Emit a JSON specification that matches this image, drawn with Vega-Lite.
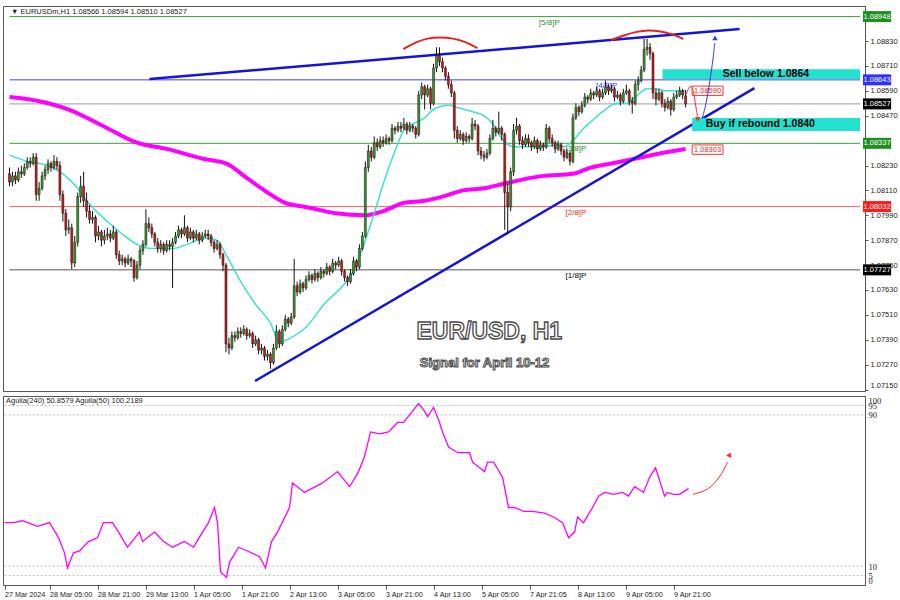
{
"$schema": "https://vega.github.io/schema/vega-lite/v6.json",
"background": "white",
"padding": {"left": 0, "top": 5, "right": 0, "bottom": 0},
"spacing": 3,
"config": {"view": {"stroke": "#555", "strokeWidth": 1}, "legend": {"disable": true}, "text": {"font": "Liberation Sans"}, "axis": {"labelFont": "Liberation Sans", "title": null, "labelOverlap": false}},
"datasets": {
"one": [{}],
"candles": [
{"i":0,"o":1.0819,"h":1.0822,"l":1.0813,"c":1.0815},{"i":1,"o":1.0815,"h":1.0820,"l":1.0813,"c":1.0818},{"i":2,"o":1.0818,"h":1.0820,"l":1.0814,"c":1.0816},{"i":3,"o":1.0816,"h":1.0822,"l":1.0815,"c":1.0820},{"i":4,"o":1.0820,"h":1.0823,"l":1.0817,"c":1.0819},{"i":5,"o":1.0819,"h":1.0824,"l":1.0818,"c":1.0822},{"i":6,"o":1.0822,"h":1.0827,"l":1.0821,"c":1.0825},{"i":7,"o":1.0825,"h":1.0827,"l":1.0822,"c":1.0824},{"i":8,"o":1.0824,"h":1.0829,"l":1.0823,"c":1.0827},{"i":9,"o":1.0827,"h":1.0829,"l":1.0806,"c":1.0809},
{"i":10,"o":1.0809,"h":1.0815,"l":1.0806,"c":1.0812},{"i":11,"o":1.0812,"h":1.0820,"l":1.0811,"c":1.0818},{"i":12,"o":1.0818,"h":1.0823,"l":1.0816,"c":1.0821},{"i":13,"o":1.0821,"h":1.0826,"l":1.0819,"c":1.0824},{"i":14,"o":1.0824,"h":1.0825,"l":1.0820,"c":1.0822},{"i":15,"o":1.0822,"h":1.0828,"l":1.0821,"c":1.0825},{"i":16,"o":1.0825,"h":1.0827,"l":1.0821,"c":1.0823},{"i":17,"o":1.0823,"h":1.0825,"l":1.0806,"c":1.0809},{"i":18,"o":1.0809,"h":1.0811,"l":1.0796,"c":1.0800},{"i":19,"o":1.0800,"h":1.0802,"l":1.0789,"c":1.0792},
{"i":20,"o":1.0792,"h":1.0797,"l":1.0790,"c":1.0793},{"i":21,"o":1.0793,"h":1.0795,"l":1.0773,"c":1.0776},{"i":22,"o":1.0776,"h":1.0789,"l":1.0774,"c":1.0786},{"i":23,"o":1.0786,"h":1.0810,"l":1.0784,"c":1.0808},{"i":24,"o":1.0808,"h":1.0818,"l":1.0805,"c":1.0813},{"i":25,"o":1.0813,"h":1.0820,"l":1.0803,"c":1.0806},{"i":26,"o":1.0806,"h":1.0810,"l":1.0798,"c":1.0801},{"i":27,"o":1.0801,"h":1.0804,"l":1.0795,"c":1.0797},{"i":28,"o":1.0797,"h":1.0801,"l":1.0795,"c":1.0798},{"i":29,"o":1.0798,"h":1.0799,"l":1.0786,"c":1.0789},
{"i":30,"o":1.0789,"h":1.0794,"l":1.0787,"c":1.0791},{"i":31,"o":1.0791,"h":1.0792,"l":1.0784,"c":1.0787},{"i":32,"o":1.0787,"h":1.0792,"l":1.0785,"c":1.0789},{"i":33,"o":1.0789,"h":1.0793,"l":1.0787,"c":1.0790},{"i":34,"o":1.0790,"h":1.0792,"l":1.0786,"c":1.0788},{"i":35,"o":1.0788,"h":1.0794,"l":1.0787,"c":1.0791},{"i":36,"o":1.0791,"h":1.0792,"l":1.0778,"c":1.0780},{"i":37,"o":1.0780,"h":1.0782,"l":1.0775,"c":1.0777},{"i":38,"o":1.0777,"h":1.0780,"l":1.0775,"c":1.0778},{"i":39,"o":1.0778,"h":1.0779,"l":1.0774,"c":1.0776},
{"i":40,"o":1.0776,"h":1.0780,"l":1.0775,"c":1.0778},{"i":41,"o":1.0778,"h":1.0779,"l":1.0774,"c":1.0777},{"i":42,"o":1.0777,"h":1.0778,"l":1.0767,"c":1.0769},{"i":43,"o":1.0769,"h":1.0777,"l":1.0768,"c":1.0775},{"i":44,"o":1.0775,"h":1.0784,"l":1.0773,"c":1.0782},{"i":45,"o":1.0782,"h":1.0787,"l":1.0780,"c":1.0785},{"i":46,"o":1.0785,"h":1.0802,"l":1.0784,"c":1.0795},{"i":47,"o":1.0795,"h":1.0798,"l":1.0791,"c":1.0793},{"i":48,"o":1.0793,"h":1.0795,"l":1.0788,"c":1.0790},{"i":49,"o":1.0790,"h":1.0791,"l":1.0784,"c":1.0786},
{"i":50,"o":1.0786,"h":1.0788,"l":1.0781,"c":1.0783},{"i":51,"o":1.0783,"h":1.0787,"l":1.0781,"c":1.0785},{"i":52,"o":1.0785,"h":1.0786,"l":1.0780,"c":1.0782},{"i":53,"o":1.0782,"h":1.0787,"l":1.0781,"c":1.0785},{"i":54,"o":1.0785,"h":1.0787,"l":1.0782,"c":1.0784},{"i":55,"o":1.0784,"h":1.0788,"l":1.0764,"c":1.0786},{"i":56,"o":1.0786,"h":1.0791,"l":1.0785,"c":1.0789},{"i":57,"o":1.0789,"h":1.0794,"l":1.0788,"c":1.0792},{"i":58,"o":1.0792,"h":1.0793,"l":1.0788,"c":1.0790},{"i":59,"o":1.0790,"h":1.0799,"l":1.0789,"c":1.0793},
{"i":60,"o":1.0793,"h":1.0794,"l":1.0786,"c":1.0788},{"i":61,"o":1.0788,"h":1.0793,"l":1.0787,"c":1.0791},{"i":62,"o":1.0791,"h":1.0792,"l":1.0786,"c":1.0788},{"i":63,"o":1.0788,"h":1.0792,"l":1.0787,"c":1.0790},{"i":64,"o":1.0790,"h":1.0791,"l":1.0785,"c":1.0787},{"i":65,"o":1.0787,"h":1.0791,"l":1.0786,"c":1.0789},{"i":66,"o":1.0789,"h":1.0792,"l":1.0788,"c":1.0790},{"i":67,"o":1.0790,"h":1.0792,"l":1.0787,"c":1.0789},{"i":68,"o":1.0789,"h":1.0790,"l":1.0784,"c":1.0786},{"i":69,"o":1.0786,"h":1.0787,"l":1.0781,"c":1.0783},
{"i":70,"o":1.0783,"h":1.0787,"l":1.0782,"c":1.0785},{"i":71,"o":1.0785,"h":1.0786,"l":1.0778,"c":1.0780},{"i":72,"o":1.0780,"h":1.0781,"l":1.0772,"c":1.0775},{"i":73,"o":1.0775,"h":1.0776,"l":1.0733,"c":1.0737},{"i":74,"o":1.0737,"h":1.0740,"l":1.0732,"c":1.0735},{"i":75,"o":1.0735,"h":1.0743,"l":1.0734,"c":1.0741},{"i":76,"o":1.0741,"h":1.0743,"l":1.0738,"c":1.0740},{"i":77,"o":1.0740,"h":1.0745,"l":1.0739,"c":1.0743},{"i":78,"o":1.0743,"h":1.0745,"l":1.0740,"c":1.0742},{"i":79,"o":1.0742,"h":1.0746,"l":1.0741,"c":1.0744},
{"i":80,"o":1.0744,"h":1.0745,"l":1.0739,"c":1.0741},{"i":81,"o":1.0741,"h":1.0744,"l":1.0740,"c":1.0742},{"i":82,"o":1.0742,"h":1.0743,"l":1.0735,"c":1.0737},{"i":83,"o":1.0737,"h":1.0741,"l":1.0736,"c":1.0739},{"i":84,"o":1.0739,"h":1.0740,"l":1.0732,"c":1.0734},{"i":85,"o":1.0734,"h":1.0737,"l":1.0732,"c":1.0735},{"i":86,"o":1.0735,"h":1.0736,"l":1.0729,"c":1.0731},{"i":87,"o":1.0731,"h":1.0734,"l":1.0729,"c":1.0732},{"i":88,"o":1.0732,"h":1.0733,"l":1.0725,"c":1.0728},{"i":89,"o":1.0728,"h":1.0737,"l":1.0727,"c":1.0735},
{"i":90,"o":1.0735,"h":1.0746,"l":1.0734,"c":1.0743},{"i":91,"o":1.0743,"h":1.0744,"l":1.0735,"c":1.0737},{"i":92,"o":1.0737,"h":1.0746,"l":1.0736,"c":1.0744},{"i":93,"o":1.0744,"h":1.0751,"l":1.0743,"c":1.0749},{"i":94,"o":1.0749,"h":1.0750,"l":1.0745,"c":1.0747},{"i":95,"o":1.0747,"h":1.0752,"l":1.0746,"c":1.0750},{"i":96,"o":1.0750,"h":1.0778,"l":1.0749,"c":1.0765},{"i":97,"o":1.0765,"h":1.0767,"l":1.0760,"c":1.0762},{"i":98,"o":1.0762,"h":1.0768,"l":1.0761,"c":1.0766},{"i":99,"o":1.0766,"h":1.0767,"l":1.0762,"c":1.0764},
{"i":100,"o":1.0764,"h":1.0770,"l":1.0763,"c":1.0768},{"i":101,"o":1.0768,"h":1.0772,"l":1.0767,"c":1.0770},{"i":102,"o":1.0770,"h":1.0771,"l":1.0766,"c":1.0768},{"i":103,"o":1.0768,"h":1.0773,"l":1.0767,"c":1.0771},{"i":104,"o":1.0771,"h":1.0772,"l":1.0767,"c":1.0769},{"i":105,"o":1.0769,"h":1.0774,"l":1.0768,"c":1.0772},{"i":106,"o":1.0772,"h":1.0773,"l":1.0769,"c":1.0771},{"i":107,"o":1.0771,"h":1.0776,"l":1.0770,"c":1.0774},{"i":108,"o":1.0774,"h":1.0775,"l":1.0770,"c":1.0772},{"i":109,"o":1.0772,"h":1.0778,"l":1.0771,"c":1.0776},
{"i":110,"o":1.0776,"h":1.0777,"l":1.0773,"c":1.0775},{"i":111,"o":1.0775,"h":1.0779,"l":1.0774,"c":1.0777},{"i":112,"o":1.0777,"h":1.0778,"l":1.0770,"c":1.0772},{"i":113,"o":1.0772,"h":1.0773,"l":1.0767,"c":1.0769},{"i":114,"o":1.0769,"h":1.0770,"l":1.0765,"c":1.0767},{"i":115,"o":1.0767,"h":1.0773,"l":1.0766,"c":1.0771},{"i":116,"o":1.0771,"h":1.0779,"l":1.0770,"c":1.0777},{"i":117,"o":1.0777,"h":1.0778,"l":1.0772,"c":1.0774},{"i":118,"o":1.0774,"h":1.0785,"l":1.0773,"c":1.0783},{"i":119,"o":1.0783,"h":1.0791,"l":1.0782,"c":1.0789},
{"i":120,"o":1.0789,"h":1.0825,"l":1.0788,"c":1.0822},{"i":121,"o":1.0822,"h":1.0833,"l":1.0820,"c":1.0830},{"i":122,"o":1.0830,"h":1.0832,"l":1.0825,"c":1.0827},{"i":123,"o":1.0827,"h":1.0837,"l":1.0826,"c":1.0834},{"i":124,"o":1.0834,"h":1.0836,"l":1.0830,"c":1.0832},{"i":125,"o":1.0832,"h":1.0837,"l":1.0831,"c":1.0835},{"i":126,"o":1.0835,"h":1.0837,"l":1.0832,"c":1.0834},{"i":127,"o":1.0834,"h":1.0838,"l":1.0833,"c":1.0836},{"i":128,"o":1.0836,"h":1.0837,"l":1.0833,"c":1.0835},{"i":129,"o":1.0835,"h":1.0843,"l":1.0834,"c":1.0841},
{"i":130,"o":1.0841,"h":1.0842,"l":1.0838,"c":1.0840},{"i":131,"o":1.0840,"h":1.0844,"l":1.0839,"c":1.0842},{"i":132,"o":1.0842,"h":1.0844,"l":1.0839,"c":1.0841},{"i":133,"o":1.0841,"h":1.0846,"l":1.0840,"c":1.0843},{"i":134,"o":1.0843,"h":1.0844,"l":1.0838,"c":1.0840},{"i":135,"o":1.0840,"h":1.0844,"l":1.0839,"c":1.0842},{"i":136,"o":1.0842,"h":1.0843,"l":1.0839,"c":1.0841},{"i":137,"o":1.0841,"h":1.0842,"l":1.0836,"c":1.0838},{"i":138,"o":1.0838,"h":1.0859,"l":1.0837,"c":1.0857},{"i":139,"o":1.0857,"h":1.0863,"l":1.0855,"c":1.0861},
{"i":140,"o":1.0861,"h":1.0862,"l":1.0850,"c":1.0857},{"i":141,"o":1.0857,"h":1.0862,"l":1.0856,"c":1.0860},{"i":142,"o":1.0860,"h":1.0861,"l":1.0850,"c":1.0853},{"i":143,"o":1.0853,"h":1.0872,"l":1.0852,"c":1.0870},{"i":144,"o":1.0870,"h":1.0880,"l":1.0868,"c":1.0876},{"i":145,"o":1.0876,"h":1.0880,"l":1.0871,"c":1.0873},{"i":146,"o":1.0873,"h":1.0875,"l":1.0868,"c":1.0870},{"i":147,"o":1.0870,"h":1.0871,"l":1.0864,"c":1.0866},{"i":148,"o":1.0866,"h":1.0868,"l":1.0860,"c":1.0862},{"i":149,"o":1.0862,"h":1.0864,"l":1.0856,"c":1.0858},
{"i":150,"o":1.0858,"h":1.0859,"l":1.0836,"c":1.0840},{"i":151,"o":1.0840,"h":1.0842,"l":1.0834,"c":1.0836},{"i":152,"o":1.0836,"h":1.0840,"l":1.0835,"c":1.0838},{"i":153,"o":1.0838,"h":1.0839,"l":1.0833,"c":1.0835},{"i":154,"o":1.0835,"h":1.0839,"l":1.0834,"c":1.0837},{"i":155,"o":1.0837,"h":1.0838,"l":1.0834,"c":1.0836},{"i":156,"o":1.0836,"h":1.0846,"l":1.0835,"c":1.0843},{"i":157,"o":1.0843,"h":1.0845,"l":1.0840,"c":1.0842},{"i":158,"o":1.0842,"h":1.0843,"l":1.0828,"c":1.0830},{"i":159,"o":1.0830,"h":1.0832,"l":1.0826,"c":1.0828},
{"i":160,"o":1.0828,"h":1.0830,"l":1.0825,"c":1.0827},{"i":161,"o":1.0827,"h":1.0831,"l":1.0826,"c":1.0829},{"i":162,"o":1.0829,"h":1.0838,"l":1.0828,"c":1.0836},{"i":163,"o":1.0836,"h":1.0845,"l":1.0835,"c":1.0841},{"i":164,"o":1.0841,"h":1.0842,"l":1.0837,"c":1.0839},{"i":165,"o":1.0839,"h":1.0849,"l":1.0838,"c":1.0841},{"i":166,"o":1.0841,"h":1.0842,"l":1.0835,"c":1.0838},{"i":167,"o":1.0838,"h":1.0839,"l":1.0792,"c":1.0810},{"i":168,"o":1.0810,"h":1.0814,"l":1.0790,"c":1.0803},{"i":169,"o":1.0803,"h":1.0822,"l":1.0801,"c":1.0820},
{"i":170,"o":1.0820,"h":1.0843,"l":1.0818,"c":1.0840},{"i":171,"o":1.0840,"h":1.0846,"l":1.0838,"c":1.0842},{"i":172,"o":1.0842,"h":1.0843,"l":1.0833,"c":1.0835},{"i":173,"o":1.0835,"h":1.0837,"l":1.0831,"c":1.0833},{"i":174,"o":1.0833,"h":1.0838,"l":1.0832,"c":1.0836},{"i":175,"o":1.0836,"h":1.0838,"l":1.0832,"c":1.0834},{"i":176,"o":1.0834,"h":1.0835,"l":1.0830,"c":1.0832},{"i":177,"o":1.0832,"h":1.0837,"l":1.0831,"c":1.0835},{"i":178,"o":1.0835,"h":1.0836,"l":1.0829,"c":1.0831},{"i":179,"o":1.0831,"h":1.0835,"l":1.0830,"c":1.0833},
{"i":180,"o":1.0833,"h":1.0834,"l":1.0830,"c":1.0832},{"i":181,"o":1.0832,"h":1.0843,"l":1.0831,"c":1.0841},{"i":182,"o":1.0841,"h":1.0842,"l":1.0834,"c":1.0836},{"i":183,"o":1.0836,"h":1.0838,"l":1.0832,"c":1.0834},{"i":184,"o":1.0834,"h":1.0835,"l":1.0829,"c":1.0831},{"i":185,"o":1.0831,"h":1.0835,"l":1.0830,"c":1.0833},{"i":186,"o":1.0833,"h":1.0834,"l":1.0828,"c":1.0830},{"i":187,"o":1.0830,"h":1.0831,"l":1.0825,"c":1.0827},{"i":188,"o":1.0827,"h":1.0831,"l":1.0826,"c":1.0829},{"i":189,"o":1.0829,"h":1.0830,"l":1.0823,"c":1.0825},
{"i":190,"o":1.0825,"h":1.0848,"l":1.0824,"c":1.0846},{"i":191,"o":1.0846,"h":1.0853,"l":1.0845,"c":1.0851},{"i":192,"o":1.0851,"h":1.0852,"l":1.0847,"c":1.0849},{"i":193,"o":1.0849,"h":1.0854,"l":1.0848,"c":1.0852},{"i":194,"o":1.0852,"h":1.0858,"l":1.0851,"c":1.0856},{"i":195,"o":1.0856,"h":1.0857,"l":1.0853,"c":1.0855},{"i":196,"o":1.0855,"h":1.0860,"l":1.0854,"c":1.0858},{"i":197,"o":1.0858,"h":1.0859,"l":1.0855,"c":1.0857},{"i":198,"o":1.0857,"h":1.0861,"l":1.0856,"c":1.0859},{"i":199,"o":1.0859,"h":1.0860,"l":1.0854,"c":1.0856},
{"i":200,"o":1.0856,"h":1.0860,"l":1.0855,"c":1.0858},{"i":201,"o":1.0858,"h":1.0864,"l":1.0857,"c":1.0861},{"i":202,"o":1.0861,"h":1.0862,"l":1.0857,"c":1.0859},{"i":203,"o":1.0859,"h":1.0862,"l":1.0858,"c":1.0860},{"i":204,"o":1.0860,"h":1.0861,"l":1.0854,"c":1.0856},{"i":205,"o":1.0856,"h":1.0859,"l":1.0855,"c":1.0857},{"i":206,"o":1.0857,"h":1.0858,"l":1.0852,"c":1.0854},{"i":207,"o":1.0854,"h":1.0860,"l":1.0853,"c":1.0858},{"i":208,"o":1.0858,"h":1.0862,"l":1.0857,"c":1.0859},{"i":209,"o":1.0859,"h":1.0860,"l":1.0852,"c":1.0854},
{"i":210,"o":1.0854,"h":1.0856,"l":1.0848,"c":1.0853},{"i":211,"o":1.0853,"h":1.0864,"l":1.0852,"c":1.0862},{"i":212,"o":1.0862,"h":1.0866,"l":1.0859,"c":1.0864},{"i":213,"o":1.0864,"h":1.0871,"l":1.0863,"c":1.0869},{"i":214,"o":1.0869,"h":1.0884,"l":1.0868,"c":1.0879},{"i":215,"o":1.0879,"h":1.0884,"l":1.0876,"c":1.0880},{"i":216,"o":1.0880,"h":1.0882,"l":1.0874,"c":1.0877},{"i":217,"o":1.0877,"h":1.0878,"l":1.0855,"c":1.0858},{"i":218,"o":1.0858,"h":1.0860,"l":1.0852,"c":1.0855},{"i":219,"o":1.0855,"h":1.0860,"l":1.0854,"c":1.0858},
{"i":220,"o":1.0858,"h":1.0859,"l":1.0851,"c":1.0853},{"i":221,"o":1.0853,"h":1.0855,"l":1.0849,"c":1.0851},{"i":222,"o":1.0851,"h":1.0856,"l":1.0850,"c":1.0854},{"i":223,"o":1.0854,"h":1.0855,"l":1.0847,"c":1.0850},{"i":224,"o":1.0850,"h":1.0858,"l":1.0849,"c":1.0856},{"i":225,"o":1.0856,"h":1.0859,"l":1.0855,"c":1.0857},{"i":226,"o":1.0857,"h":1.0861,"l":1.0856,"c":1.0859},{"i":227,"o":1.0859,"h":1.0860,"l":1.0855,"c":1.0857},{"i":228,"o":1.08566,"h":1.08594,"l":1.0851,"c":1.08527}
],
"ma": [
{"i":0,"p":1.0828},{"i":6,"p":1.0825},{"i":13,"p":1.0823},{"i":18,"p":1.0819},{"i":23,"p":1.0812},{"i":26,"p":1.0806},{"i":33,"p":1.0796},{"i":38,"p":1.0790},{"i":43,"p":1.0785},{"i":48,"p":1.0783},{"i":55,"p":1.0783},{"i":60,"p":1.0785},{"i":66,"p":1.0788},{"i":70,"p":1.0787},{"i":73,"p":1.0780},{"i":78,"p":1.0767},{"i":83,"p":1.0756},{"i":88,"p":1.0747},{"i":91,"p":1.0738},{"i":95,"p":1.0740},{"i":100,"p":1.0745},{"i":106,"p":1.0756},{"i":113,"p":1.0766},{"i":116,"p":1.0772},{"i":120,"p":1.0787},{"i":123,"p":1.0800},{"i":126,"p":1.0814},{"i":130,"p":1.0830},{"i":133,"p":1.0840},{"i":136,"p":1.0843},{"i":140,"p":1.0846},{"i":143,"p":1.0850},{"i":148,"p":1.0852},{"i":151,"p":1.0851},{"i":156,"p":1.0849},{"i":160,"p":1.0847},{"i":163,"p":1.0843},{"i":166,"p":1.0836},{"i":170,"p":1.0832},{"i":173,"p":1.0832},{"i":180,"p":1.0832},{"i":185,"p":1.0833},{"i":187,"p":1.0832},{"i":190,"p":1.0835},{"i":193,"p":1.0840},{"i":196,"p":1.0844},{"i":200,"p":1.0849},{"i":205,"p":1.0853},{"i":208,"p":1.0853},{"i":211,"p":1.0856},{"i":215,"p":1.0860},{"i":218,"p":1.0860},{"i":221,"p":1.0859},{"i":225,"p":1.0859},{"i":228,"p":1.0859}
],
"ma200": [
{"i":0,"p":1.0856},{"i":10,"p":1.0854},{"i":20,"p":1.0850},{"i":33,"p":1.0841},{"i":43,"p":1.0834},{"i":53,"p":1.0831},{"i":66,"p":1.0826},{"i":73,"p":1.0824},{"i":80,"p":1.0817},{"i":86,"p":1.0811},{"i":93,"p":1.0805},{"i":100,"p":1.0803},{"i":110,"p":1.0800},{"i":120,"p":1.0799},{"i":126,"p":1.0801},{"i":133,"p":1.0805},{"i":140,"p":1.0806},{"i":146,"p":1.0808},{"i":153,"p":1.0811},{"i":160,"p":1.0812},{"i":166,"p":1.0814},{"i":180,"p":1.0818},{"i":190,"p":1.0819},{"i":196,"p":1.0822},{"i":203,"p":1.0824},{"i":210,"p":1.0826},{"i":220,"p":1.0829},{"i":228,"p":1.0831}
],
"osc": [
{"i":0,"v":33},{"i":3,"v":33},{"i":6,"v":34},{"i":11,"v":31},{"i":15,"v":33},{"i":18,"v":25},{"i":20,"v":17},{"i":21,"v":9},{"i":23,"v":17},{"i":25,"v":18},{"i":28,"v":23},{"i":31,"v":25},{"i":33,"v":33},{"i":36,"v":33},{"i":38,"v":28},{"i":41,"v":20},{"i":45,"v":28},{"i":46,"v":23},{"i":50,"v":28},{"i":53,"v":23},{"i":56,"v":20},{"i":60,"v":23},{"i":63,"v":20},{"i":66,"v":28},{"i":68,"v":33},{"i":70,"v":41},{"i":71,"v":33},{"i":72,"v":7},{"i":74,"v":4},{"i":75,"v":12},{"i":78,"v":20},{"i":81,"v":18},{"i":85,"v":15},{"i":87,"v":9},{"i":89,"v":23},{"i":91,"v":28},{"i":95,"v":41},{"i":96,"v":54},{"i":100,"v":49},{"i":106,"v":54},{"i":111,"v":60},{"i":115,"v":52},{"i":118,"v":60},{"i":120,"v":68},{"i":122,"v":81},{"i":125,"v":80},{"i":128,"v":81},{"i":131,"v":86},{"i":133,"v":86},{"i":136,"v":92},{"i":138,"v":96},{"i":140,"v":92},{"i":141,"v":89},{"i":143,"v":94},{"i":145,"v":86},{"i":146,"v":81},{"i":148,"v":73},{"i":151,"v":70},{"i":155,"v":70},{"i":156,"v":65},{"i":160,"v":60},{"i":161,"v":65},{"i":163,"v":65},{"i":166,"v":57},{"i":168,"v":41},{"i":170,"v":41},{"i":173,"v":39},{"i":176,"v":39},{"i":180,"v":38},{"i":183,"v":36},{"i":186,"v":33},{"i":188,"v":25},{"i":190,"v":28},{"i":191,"v":36},{"i":193,"v":33},{"i":196,"v":41},{"i":198,"v":47},{"i":200,"v":49},{"i":203,"v":48},{"i":206,"v":49},{"i":208,"v":47},{"i":210,"v":52},{"i":213,"v":49},{"i":215,"v":57},{"i":217,"v":62},{"i":218,"v":57},{"i":220,"v":47},{"i":221,"v":49},{"i":223,"v":48},{"i":225,"v":48},{"i":226,"v":49},{"i":228,"v":51}
],
"levels": [
{"lvl":"5/8","txt":"[5/8]P","p":1.08948,"at":178.5},
{"lvl":"4/8","txt":"[4/8]P","p":1.08643,"at":197.8},
{"lvl":"cur","txt":"","p":1.08527,"at":0},
{"lvl":"3/8","txt":"[3/8]P","p":1.08337,"at":187.5},
{"lvl":"2/8","txt":"[2/8]P","p":1.08032,"at":187.5},
{"lvl":"1/8","txt":"[1/8]P","p":1.07727,"at":187.5}
],
"trend": [
{"ln":"a","i":47.2,"p":1.08647},{"ln":"a","i":246.2,"p":1.08888},
{"ln":"b","i":82.8,"p":1.07191},{"ln":"b","i":251.2,"p":1.08603}
],
"arcs": [
{"arc":"a","i":132.8,"p":1.08791},{"arc":"a","i":137,"p":1.08825},{"arc":"a","i":141,"p":1.08844},{"arc":"a","i":145,"p":1.08849},{"arc":"a","i":149.5,"p":1.08844},{"arc":"a","i":154,"p":1.08825},{"arc":"a","i":157.8,"p":1.08796},
{"arc":"b","i":202.8,"p":1.08835},{"arc":"b","i":207.5,"p":1.08859},{"arc":"b","i":211.5,"p":1.08876},{"arc":"b","i":215.5,"p":1.08883},{"arc":"b","i":219.5,"p":1.08878},{"arc":"b","i":223.5,"p":1.08864},{"arc":"b","i":227.2,"p":1.0884}
],
"redarrow": [
{"k":1,"i":228.2,"p":1.08575},{"k":2,"i":229.8,"p":1.08632},{"k":3,"i":230.8,"p":1.08575},{"k":4,"i":231.6,"p":1.0850},{"k":5,"i":232.0,"p":1.08468}
],
"bluearrow": [
{"k":1,"i":233.5,"p":1.08454},{"k":2,"i":234.8,"p":1.08517},{"k":3,"i":236.2,"p":1.08637},{"k":4,"i":237.4,"p":1.08758},{"k":5,"i":237.8,"p":1.0882}
],
"oscarrow": [
{"k":1,"i":229.5,"v":48},{"k":2,"i":234.5,"v":50},{"k":3,"i":238.5,"v":57},{"k":4,"i":241,"v":65}
],
"osclv": [{"v":5},{"v":10},{"v":90},{"v":95}]
},
"vconcat": [
{
"width": 862, "height": 385,
"resolve": {"axis": {"y": "independent"}},
"layer": [
{"data": {"name": "levels"}, "mark": {"type": "rule", "strokeWidth": 1},
 "encoding": {"x": {"datum": 0, "type": "quantitative", "scale": {"domain": [-0.5, 286.8]}, "axis": null}, "x2": {"datum": 286.8},
  "y": {"field": "p", "type": "quantitative", "scale": {"domain": [1.07143, 1.08999]},
   "axis": {"orient": "right", "values": [1.0715,1.0727,1.0739,1.0751,1.0763,1.0775,1.0787,1.0799,1.0811,1.0823,1.0847,1.0859,1.0871,1.0883], "format": ".5f", "labelFontSize": 7.5, "labelColor": "#222", "tickSize": 3, "tickColor": "#555", "labelPadding": 2, "domain": false, "grid": false, "labelOverlap": false, "labelFlush": 3}},
  "stroke": {"field": "lvl", "type": "nominal", "scale": {"domain": ["5/8","4/8","cur","3/8","2/8","1/8"], "range": ["#3aa03a","#3c3cff","#9a9a9a","#3aa03a","#ff6060","#555555"]}}}},
{"data": {"name": "levels"}, "transform": [{"filter": "datum.txt != ''"}],
 "mark": {"type": "text", "align": "left", "baseline": "top", "dy": 2, "fontSize": 8},
 "encoding": {"x": {"field": "at", "type": "quantitative", "scale": {"domain": [-0.5, 286.8]}, "axis": null},
  "y": {"field": "p", "type": "quantitative", "scale": {"domain": [1.07143, 1.08999]}, "axis": null},
  "text": {"field": "txt"},
  "color": {"field": "lvl", "type": "nominal", "scale": {"domain": ["5/8","4/8","cur","3/8","2/8","1/8"], "range": ["#1e8f1e","#2f2fff","#000000","#1e8f1e","#ff1a1a","#000000"]}}}},
{"data": {"name": "ma200"}, "mark": {"type": "line", "color": "#ff00ff", "strokeWidth": 4, "interpolate": "monotone"},
 "encoding": {"x": {"field": "i", "type": "quantitative", "scale": {"domain": [-0.5, 286.8]}, "axis": null},
  "y": {"field": "p", "type": "quantitative", "scale": {"domain": [1.07143, 1.08999]}, "axis": null}}},
{"data": {"name": "ma"}, "mark": {"type": "line", "color": "#3fe0cf", "strokeWidth": 1.5, "interpolate": "monotone"},
 "encoding": {"x": {"field": "i", "type": "quantitative", "scale": {"domain": [-0.5, 286.8]}, "axis": null},
  "y": {"field": "p", "type": "quantitative", "scale": {"domain": [1.07143, 1.08999]}, "axis": null}}},
{"data": {"name": "trend"}, "mark": {"type": "line", "color": "#1414d8", "strokeWidth": 2.5},
 "encoding": {"x": {"field": "i", "type": "quantitative", "scale": {"domain": [-0.5, 286.8]}, "axis": null},
  "y": {"field": "p", "type": "quantitative", "scale": {"domain": [1.07143, 1.08999]}, "axis": null},
  "detail": {"field": "ln"}}},
{"data": {"name": "candles"}, "mark": {"type": "rule", "color": "#111", "strokeWidth": 1},
 "encoding": {"x": {"field": "i", "type": "quantitative", "scale": {"domain": [-0.5, 286.8]}, "axis": null},
  "y": {"field": "l", "type": "quantitative", "scale": {"domain": [1.07143, 1.08999]}, "axis": null},
  "y2": {"field": "h"}}},
{"data": {"name": "candles"}, "mark": {"type": "bar", "size": 2, "stroke": "#111", "strokeWidth": 0.5},
 "encoding": {"x": {"field": "i", "type": "quantitative", "scale": {"domain": [-0.5, 286.8]}, "axis": null},
  "y": {"field": "o", "type": "quantitative", "scale": {"domain": [1.07143, 1.08999]}, "axis": null},
  "y2": {"field": "c"},
  "fill": {"condition": {"test": "datum.c >= datum.o", "value": "#3c9a2a"}, "value": "#cc1a1a"}}},
{"data": {"name": "arcs"}, "mark": {"type": "line", "color": "#e82020", "strokeWidth": 2, "interpolate": "basis"},
 "encoding": {"x": {"field": "i", "type": "quantitative", "scale": {"domain": [-0.5, 286.8]}, "axis": null},
  "y": {"field": "p", "type": "quantitative", "scale": {"domain": [1.07143, 1.08999]}, "axis": null},
  "detail": {"field": "arc"}}},
{"data": {"name": "one"}, "mark": {"type": "rect", "color": "#22e2cf"},
 "encoding": {"x": {"datum": 220.2, "type": "quantitative", "scale": {"domain": [-0.5, 286.8]}, "axis": null}, "x2": {"datum": 286.8},
  "y": {"datum": 1.08694, "type": "quantitative", "scale": {"domain": [1.07143, 1.08999]}, "axis": null}, "y2": {"datum": 1.08646}}},
{"data": {"name": "one"}, "mark": {"type": "rect", "color": "#22e2cf"},
 "encoding": {"x": {"datum": 230.2, "type": "quantitative", "scale": {"domain": [-0.5, 286.8]}, "axis": null}, "x2": {"datum": 286.8},
  "y": {"datum": 1.08459, "type": "quantitative", "scale": {"domain": [1.07143, 1.08999]}, "axis": null}, "y2": {"datum": 1.08396}}},
{"data": {"name": "one"}, "mark": {"type": "text", "align": "left", "baseline": "middle", "fontSize": 10.5, "fontWeight": "bold", "color": "#000"},
 "encoding": {"x": {"datum": 240.5, "type": "quantitative", "scale": {"domain": [-0.5, 286.8]}, "axis": null},
  "y": {"datum": 1.08670, "type": "quantitative", "scale": {"domain": [1.07143, 1.08999]}, "axis": null}, "text": {"value": "Sell below 1.0864"}}},
{"data": {"name": "one"}, "mark": {"type": "text", "align": "left", "baseline": "middle", "fontSize": 10.5, "fontWeight": "bold", "color": "#000"},
 "encoding": {"x": {"datum": 234.8, "type": "quantitative", "scale": {"domain": [-0.5, 286.8]}, "axis": null},
  "y": {"datum": 1.08428, "type": "quantitative", "scale": {"domain": [1.07143, 1.08999]}, "axis": null}, "text": {"value": "Buy if rebound 1.0840"}}},
{"data": {"name": "one"}, "mark": {"type": "rect", "fill": "#fff", "stroke": "#ff3030", "strokeWidth": 1},
 "encoding": {"x": {"datum": 230.2, "type": "quantitative", "scale": {"domain": [-0.5, 286.8]}, "axis": null}, "x2": {"datum": 240.6},
  "y": {"datum": 1.08613, "type": "quantitative", "scale": {"domain": [1.07143, 1.08999]}, "axis": null}, "y2": {"datum": 1.08568}}},
{"data": {"name": "one"}, "mark": {"type": "rect", "fill": "#fff", "stroke": "#ff3030", "strokeWidth": 1},
 "encoding": {"x": {"datum": 230.2, "type": "quantitative", "scale": {"domain": [-0.5, 286.8]}, "axis": null}, "x2": {"datum": 240.6},
  "y": {"datum": 1.08329, "type": "quantitative", "scale": {"domain": [1.07143, 1.08999]}, "axis": null}, "y2": {"datum": 1.08284}}},
{"data": {"name": "one"}, "mark": {"type": "text", "align": "center", "baseline": "middle", "fontSize": 7.5, "color": "#ff2020"},
 "encoding": {"x": {"datum": 235.4, "type": "quantitative", "scale": {"domain": [-0.5, 286.8]}, "axis": null},
  "y": {"datum": 1.08591, "type": "quantitative", "scale": {"domain": [1.07143, 1.08999]}, "axis": null}, "text": {"value": "1.08590"}}},
{"data": {"name": "one"}, "mark": {"type": "text", "align": "center", "baseline": "middle", "fontSize": 7.5, "color": "#ff2020"},
 "encoding": {"x": {"datum": 235.4, "type": "quantitative", "scale": {"domain": [-0.5, 286.8]}, "axis": null},
  "y": {"datum": 1.08307, "type": "quantitative", "scale": {"domain": [1.07143, 1.08999]}, "axis": null}, "text": {"value": "1.08303"}}},
{"data": {"name": "redarrow"}, "mark": {"type": "line", "color": "#ff2a2a", "strokeWidth": 1, "interpolate": "basis"},
 "encoding": {"x": {"field": "i", "type": "quantitative", "scale": {"domain": [-0.5, 286.8]}, "axis": null},
  "y": {"field": "p", "type": "quantitative", "scale": {"domain": [1.07143, 1.08999]}, "axis": null}, "order": {"field": "k"}}},
{"data": {"name": "one"}, "mark": {"type": "point", "shape": "triangle-down", "filled": true, "color": "#ff2a2a", "size": 30, "opacity": 1},
 "encoding": {"x": {"datum": 232.1, "type": "quantitative", "scale": {"domain": [-0.5, 286.8]}, "axis": null},
  "y": {"datum": 1.08452, "type": "quantitative", "scale": {"domain": [1.07143, 1.08999]}, "axis": null}}},
{"data": {"name": "bluearrow"}, "mark": {"type": "line", "color": "#3a3ae0", "strokeWidth": 1, "interpolate": "basis"},
 "encoding": {"x": {"field": "i", "type": "quantitative", "scale": {"domain": [-0.5, 286.8]}, "axis": null},
  "y": {"field": "p", "type": "quantitative", "scale": {"domain": [1.07143, 1.08999]}, "axis": null}, "order": {"field": "k"}}},
{"data": {"name": "one"}, "mark": {"type": "point", "shape": "triangle-up", "filled": true, "color": "#3a3ae0", "size": 30, "opacity": 1},
 "encoding": {"x": {"datum": 237.9, "type": "quantitative", "scale": {"domain": [-0.5, 286.8]}, "axis": null},
  "y": {"datum": 1.08845, "type": "quantitative", "scale": {"domain": [1.07143, 1.08999]}, "axis": null}}},
{"data": {"name": "levels"}, "mark": {"type": "rect", "clip": false, "yOffset": -5.5, "y2Offset": 5.5},
 "encoding": {"x": {"datum": 287.8, "type": "quantitative", "scale": {"domain": [-0.5, 286.8]}, "axis": null}, "x2": {"datum": 297.3},
  "y": {"field": "p", "type": "quantitative", "scale": {"domain": [1.07143, 1.08999]}, "axis": null}, "y2": {"field": "p"},
  "color": {"field": "lvl", "type": "nominal", "scale": {"domain": ["5/8","4/8","cur","3/8","2/8","1/8"], "range": ["#1e8f1e","#2f2fff","#000000","#1e8f1e","#ff1a1a","#000000"]}}}},
{"data": {"name": "levels"}, "mark": {"type": "text", "clip": false, "align": "center", "baseline": "middle", "fontSize": 7.5, "color": "#fff"},
 "encoding": {"x": {"datum": 292.55, "type": "quantitative", "scale": {"domain": [-0.5, 286.8]}, "axis": null},
  "y": {"field": "p", "type": "quantitative", "scale": {"domain": [1.07143, 1.08999]}, "axis": null},
  "text": {"field": "p", "format": ".5f"}}},
{"data": {"name": "one"}, "mark": {"type": "text", "align": "left", "baseline": "middle", "fontSize": 7.5, "color": "#222"},
 "encoding": {"x": {"datum": 0.5, "type": "quantitative", "scale": {"domain": [-0.5, 286.8]}, "axis": null},
  "y": {"datum": 1.0897, "type": "quantitative", "scale": {"domain": [1.07143, 1.08999]}, "axis": null},
  "text": {"value": "▼ EURUSDm,H1  1.08566 1.08594 1.08510 1.08527"}}},
{"data": {"name": "one"}, "mark": {"type": "text", "align": "center", "baseline": "middle", "fontSize": 23, "fontWeight": "bold", "fill": "#ffffff", "stroke": "#4a4a4a", "strokeWidth": 1.3},
 "encoding": {"x": {"datum": 161.8, "type": "quantitative", "scale": {"domain": [-0.5, 286.8]}, "axis": null},
  "y": {"datum": 1.07427, "type": "quantitative", "scale": {"domain": [1.07143, 1.08999]}, "axis": null}, "text": {"value": "EUR/USD, H1"}}},
{"data": {"name": "one"}, "mark": {"type": "text", "align": "center", "baseline": "middle", "fontSize": 13, "fontWeight": "bold", "fill": "#ffffff", "stroke": "#4a4a4a", "strokeWidth": 1},
 "encoding": {"x": {"datum": 160.2, "type": "quantitative", "scale": {"domain": [-0.5, 286.8]}, "axis": null},
  "y": {"datum": 1.07278, "type": "quantitative", "scale": {"domain": [1.07143, 1.08999]}, "axis": null}, "text": {"value": "Signal for April 10-12"}}}
]
},
{
"width": 862, "height": 189,
"resolve": {"axis": {"x": "independent", "y": "independent"}},
"layer": [
{"data": {"name": "osclv"}, "mark": {"type": "rule", "color": "#bbbbbb", "strokeWidth": 1, "strokeDash": [2, 2]},
 "encoding": {"x": {"datum": 0, "type": "quantitative", "scale": {"domain": [-0.5, 286.8]}, "axis": null}, "x2": {"datum": 286.8},
  "y": {"field": "v", "type": "quantitative", "scale": {"domain": [0, 100]},
   "axis": {"orient": "right", "values": [0, 5, 10, 90, 95, 100], "labelFont": "Liberation Serif", "labelFontSize": 8.5, "labelColor": "#222", "tickSize": 0, "labelPadding": 3, "domain": false, "grid": false, "labelOverlap": false, "labelFlush": 3}}}},
{"data": {"name": "osc"}, "mark": {"type": "line", "color": "#ff00ff", "strokeWidth": 1.3},
 "encoding": {"x": {"field": "i", "type": "quantitative", "scale": {"domain": [-0.5, 286.8]},
   "axis": {"values": [0,15,31,47,63,79,95,111,127,143,159,175,191,207,223], "labelExpr": "datum.value < 1 ? '27 Mar 2024' : ['28 Mar 05:00','28 Mar 21:00','29 Mar 13:00','1 Apr 05:00','1 Apr 21:00','2 Apr 13:00','3 Apr 05:00','3 Apr 21:00','4 Apr 13:00','5 Apr 05:00','7 Apr 21:05','8 Apr 13:00','9 Apr 05:00','9 Apr 21:00'][round((datum.value-15)/16)]", "labelAlign": "left", "labelDx": 1, "labelFontSize": 7.2, "labelColor": "#222", "tickSize": 4, "tickColor": "#555", "labelPadding": 1, "domain": false, "grid": false, "labelOverlap": false, "labelBound": false, "labelFlush": false}},
  "y": {"field": "v", "type": "quantitative", "scale": {"domain": [0, 100]}, "axis": null}}},
{"data": {"name": "oscarrow"}, "mark": {"type": "line", "color": "#ff2a2a", "strokeWidth": 1, "interpolate": "basis"},
 "encoding": {"x": {"field": "i", "type": "quantitative", "scale": {"domain": [-0.5, 286.8]}, "axis": null},
  "y": {"field": "v", "type": "quantitative", "scale": {"domain": [0, 100]}, "axis": null}, "order": {"field": "k"}}},
{"data": {"name": "one"}, "mark": {"type": "point", "shape": "triangle-up", "angle": 25, "filled": true, "color": "#ff2a2a", "size": 30, "opacity": 1},
 "encoding": {"x": {"datum": 241.7, "type": "quantitative", "scale": {"domain": [-0.5, 286.8]}, "axis": null},
  "y": {"datum": 69, "type": "quantitative", "scale": {"domain": [0, 100]}, "axis": null}}},
{"data": {"name": "one"}, "mark": {"type": "text", "align": "left", "baseline": "middle", "fontSize": 7.5, "color": "#222"},
 "encoding": {"x": {"datum": 0.5, "type": "quantitative", "scale": {"domain": [-0.5, 286.8]}, "axis": null},
  "y": {"datum": 97.4, "type": "quantitative", "scale": {"domain": [0, 100]}, "axis": null},
  "text": {"value": "Aguila(240) 50.8579  Aguila(50) 100.2189"}}}
]
}
]
}
